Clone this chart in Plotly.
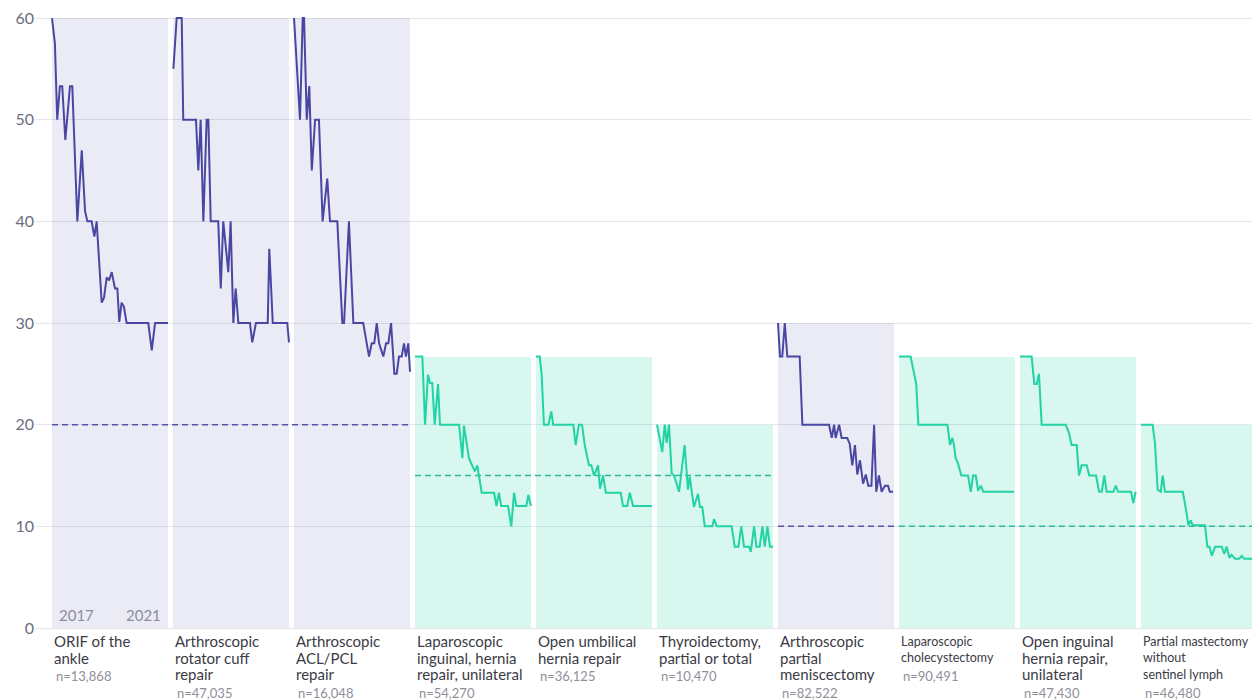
import plotly.graph_objects as go

# ---------------- data ----------------
procedures = [
    "ORIF of the\nankle",
    "Arthroscopic\nrotator cuff\nrepair",
    "Arthroscopic\nACL/PCL\nrepair",
    "Laparoscopic\ninguinal, hernia\nrepair, unilateral",
    "Open umbilical\nhernia repair",
    "Thyroidectomy,\npartial or total",
    "Arthroscopic\npartial\nmeniscectomy",
    "Laparoscopic\ncholecystectomy",
    "Open inguinal\nhernia repair,\nunilateral",
    "Partial mastectomy\nwithout\nsentinel lymph",
]
sample_sizes = ["n=13,868", "n=47,035", "n=16,048", "n=54,270", "n=36,125",
                "n=10,470", "n=82,522", "n=90,491", "n=47,430", "n=46,480"]
benchmarks = [20, 20, 20, 15, 15, 15, 10, 10, 10, 10]
series_kind = ["purple", "purple", "purple", "teal", "teal", "teal",
               "purple", "teal", "teal", "teal"]
year_labels = ["2017", "2021"]
y_ticks = [0, 10, 20, 30, 40, 50, 60]

# months since start of 2017 / value
p1_t = [0, 1.5, 2.7, 4.1, 5.3, 6.9, 9.3, 10.5, 13.1, 15.4, 17.1, 18.3, 20.5, 21.9, 23.1,
        25.7, 26.9, 28.3, 29.5, 30.9, 32.6, 33.8, 34.8, 36, 37.2, 38.6, 49.8, 51.6, 53.3, 60]
p1_v = [60, 57.5, 50, 53.3, 53.3, 48, 53.3, 53.3, 40, 47, 41, 40, 40, 38.5, 40,
        32, 32.5, 34.5, 34.2, 35, 33.4, 33.4, 30.1, 32, 31.6, 30, 30, 27.3, 30, 30]

p2_t = [0.2, 1.9, 4.5, 5.3, 11.9, 13.1, 14.3, 15.7, 17.4, 18.3, 19.5, 23.4, 24.7, 26,
        28.6, 29.8, 31.2, 32.4, 33.8, 39.8, 41, 42.9, 49, 49.8, 51.6, 59.1, 60]
p2_v = [55, 60, 60, 50, 50, 45, 50, 40, 50, 50, 40, 40, 33.4, 40,
        35, 40, 30, 33.4, 30, 30, 28.1, 30, 30, 37.3, 30, 30, 28.1]

p3_t = [0, 3.1, 4.5, 5.2, 6.6, 7.9, 9.2, 10.9, 12.9, 14.8, 17.2, 18.6, 22.4, 25, 25.9,
        28.4, 30.7, 35.8, 38.8, 40.2, 41.5, 42.8, 44, 46.2, 47.6, 48.8, 50.2, 51.9, 53.1,
        54.3, 55.7, 56.9, 57.9, 59.1, 60]
p3_v = [60, 50, 60, 60, 50, 53.3, 45, 50, 50, 40, 44.2, 40, 40, 30, 30,
        40, 30, 30, 26.7, 28, 28, 30, 28, 26.7, 28, 28, 30, 25, 25,
        26.7, 26.7, 28, 26.7, 28, 25.2]

p4_t = [0, 3.8, 5.2, 6.7, 7.8, 8.9, 10.2, 11.9, 12.9, 22.8, 24.5, 25.3, 27.9, 29.6, 30.9,
        32.2, 34.5, 40.9, 42.1, 43.4, 44.6, 48.1, 49.8, 51.2, 52.4, 57.6, 58.6, 60]
p4_v = [26.7, 26.7, 20, 24.9, 24.1, 24.1, 20, 24, 20, 20, 16.7, 19.9, 16.7, 16, 15.4,
        16, 13.3, 13.3, 12, 13.3, 12, 12, 10, 13.3, 12, 12, 13.1, 12]

p5_t = [0, 1.9, 2.9, 4.1, 6.4, 7.9, 8.9, 19.3, 20.5, 22.2, 23.8, 25.2, 27.4, 28.6, 30,
        32.1, 33.1, 34.7, 36.1, 43.8, 45, 47.2, 48.5, 50.2, 60]
p5_v = [26.7, 26.7, 25, 20, 20, 21.3, 20, 20, 18, 20, 20, 18, 16, 16, 15,
        16, 13.7, 15, 13.3, 13.3, 12, 12, 13.3, 12, 12]

p6_t = [0, 2.7, 4, 5, 6.2, 7.6, 8.8, 11.4, 14.3, 16, 16.9, 19.1, 21.2, 22.2, 23.4, 24.7,
        28.6, 29.5, 30.9, 38.6, 40.2, 42.1, 43.6, 45, 47.6, 48.5, 50.2, 51.4, 53.1, 54.5,
        55.7, 57.1, 58.4, 60]
p6_v = [20, 17.3, 20, 18.2, 20, 15.2, 15, 13.4, 18, 13.6, 14.9, 11.9, 13.2, 11.9, 11.9, 10,
        10, 10.7, 10, 10, 8, 8, 10, 8, 8, 7.5, 10, 8, 8, 10,
        8, 10, 8, 8]

p7_t = [0, 1, 2.2, 3.5, 4.8, 11.2, 12.6, 26.4, 27.8, 29, 29.8, 31.6, 32.9, 35.8, 37.1,
        38.4, 39.8, 41, 42.4, 44, 45.4, 46.7, 48.3, 49.7, 50.8, 52.2, 53.6, 55.3, 56.9,
        57.8, 59.5]
p7_v = [30, 26.7, 26.7, 30, 26.7, 26.7, 20, 20, 18.7, 20, 18.7, 20, 18.7, 18.7, 18.1,
        16, 18, 15.1, 16.5, 14.2, 15.1, 14, 14, 20, 13.4, 15, 13.4, 14, 14,
        13.4, 13.4]

p8_t = [0, 6, 8.9, 10, 25, 26.4, 27.6, 28.4, 29.3, 30.5, 32.2, 35.7, 37.1, 38.3, 39.7,
        40.9, 42.3, 43.6, 59.5]
p8_v = [26.7, 26.7, 24, 20, 20, 18, 18.7, 18, 16.7, 16.2, 15, 15, 13.4, 15, 15,
        13.5, 14, 13.4, 13.4]

p9_t = [0, 6, 7.4, 8.6, 9.8, 11.2, 23.6, 25.3, 26.7, 29.3, 30.5, 31.9, 34.5, 35.8, 39.3,
        40.9, 42.3, 43.6, 44.8, 48.3, 49.5, 50.8, 57.4, 58.6, 59.8]
p9_v = [26.7, 26.7, 24, 24, 25, 20, 20, 19.2, 18, 18, 15, 16, 16, 15, 15,
        13.4, 13.4, 15, 13.4, 13.4, 14, 13.4, 13.4, 12.3, 13.4]

p10_t = [0, 6, 7.2, 8.6, 10.2, 11.2, 12.4, 21.6, 23.3, 24.5, 25.7, 26.7, 33.1, 34.3, 35.4,
         36.6, 38.3, 41.7, 43.1, 44.3, 45.7, 46.9, 48.6, 50.8, 52.1, 53.3, 59.8]
p10_v = [20, 20, 18.2, 13.6, 13.4, 15, 13.4, 13.4, 11.6, 10.1, 10.6, 10.1, 10.1, 8, 8,
         7.1, 8, 8, 7.3, 8, 6.9, 7.2, 6.8, 6.8, 7.1, 6.8, 6.8]

series_t = [p1_t, p2_t, p3_t, p4_t, p5_t, p6_t, p7_t, p8_t, p9_t, p10_t]
series_v = [p1_v, p2_v, p3_v, p4_v, p5_v, p6_v, p7_v, p8_v, p9_v, p10_v]

# ---------------- style ----------------
SPAN = 60.0                    # months shown per panel
PITCH = SPAN * 121 / 116       # panel spacing incl. gap
FONT = "Lato, 'Open Sans', sans-serif"
PALETTE = {
    "purple": dict(line="#4a47a3", fill="rgba(75,71,163,0.11)", dash="#5653ad"),
    "teal": dict(line="#22d3a5", fill="rgba(36,211,165,0.18)", dash="#2cb99b"),
}
NAME_SIZE = [15, 15, 15, 15, 15, 15, 15, 12.5, 15, 12.5]

fig = go.Figure()

# background bars (height = series max)
for i, (t, v) in enumerate(zip(series_t, series_v)):
    off = i * PITCH
    c = PALETTE[series_kind[i]]
    fig.add_trace(go.Bar(
        x=[off + SPAN / 2], y=[max(v)], width=[SPAN],
        marker=dict(color=c["fill"], line=dict(width=0)),
        hoverinfo="skip", showlegend=False))

# benchmark dashed lines, grouped by consecutive equal value & colour
groups = []
for i, (b, k) in enumerate(zip(benchmarks, series_kind)):
    if groups and groups[-1]["b"] == b and groups[-1]["k"] == k:
        groups[-1]["end"] = i
    else:
        groups.append(dict(b=b, k=k, start=i, end=i))
for g in groups:
    fig.add_trace(go.Scatter(
        x=[g["start"] * PITCH, g["end"] * PITCH + SPAN], y=[g["b"], g["b"]],
        mode="lines", line=dict(color=PALETTE[g["k"]]["dash"], width=1.5, dash="6px,4px"),
        hoverinfo="skip", showlegend=False))

# series lines
for i, (t, v) in enumerate(zip(series_t, series_v)):
    off = i * PITCH
    c = PALETTE[series_kind[i]]
    fig.add_trace(go.Scatter(
        x=[off + m for m in t], y=v, mode="lines",
        line=dict(color=c["line"], width=2),
        name=procedures[i].replace("\n", " "), showlegend=False))

annotations = []
# year labels in first panel
annotations.append(dict(x=2.5, y=0, xref="x", yref="y", text=year_labels[0],
                        xanchor="left", yanchor="bottom", yshift=2, showarrow=False,
                        font=dict(family=FONT, size=15, color="#8d8d9c")))
annotations.append(dict(x=SPAN - 2.5, y=0, xref="x", yref="y", text=year_labels[1],
                        xanchor="right", yanchor="bottom", yshift=2, showarrow=False,
                        font=dict(family=FONT, size=15, color="#8d8d9c")))

# category labels
LINE_H = 16.5
for i, (name, n) in enumerate(zip(procedures, sample_sizes)):
    off = i * PITCH
    lines = name.split("\n")
    for k, ln in enumerate(lines):
        annotations.append(dict(
            x=off + 0.2, y=0, xref="x", yref="paper", text=ln, xanchor="left",
            yanchor="middle", yshift=-(13 + LINE_H * k), showarrow=False,
            font=dict(family=FONT, size=NAME_SIZE[i], color="#3b3b45")))
    annotations.append(dict(
        x=off + 1.2, y=0, xref="x", yref="paper", text=n, xanchor="left",
        yanchor="middle", yshift=-(15 + LINE_H * len(lines)), showarrow=False,
        font=dict(family=FONT, size=13, color="#8f8f99")))

# The page body has an 8px default margin, so the figure is sized to fit the window.
fig.update_layout(
    width=1252, height=692,
    margin=dict(l=27, r=2, t=8, b=72),
    plot_bgcolor="white", paper_bgcolor="white",
    barmode="overlay", bargap=0,
    showlegend=False,
    font=dict(family=FONT),
    annotations=annotations,
    xaxis=dict(range=[-17 * SPAN / 116, 9 * PITCH + SPAN + 0.5], showgrid=False,
               zeroline=False, showticklabels=False, ticks="", fixedrange=True),
    yaxis=dict(range=[0, 60.2], tickvals=y_ticks, showgrid=True, gridcolor="#e5e5ea",
               gridwidth=1, zeroline=True, zerolinecolor="#e5e5ea", zerolinewidth=1,
               ticks="", ticklabeloverflow="allow", automargin=False,
               tickfont=dict(family=FONT, size=16, color="#6c6c7e"),
               fixedrange=True),
)

fig.write_html("out.html")
